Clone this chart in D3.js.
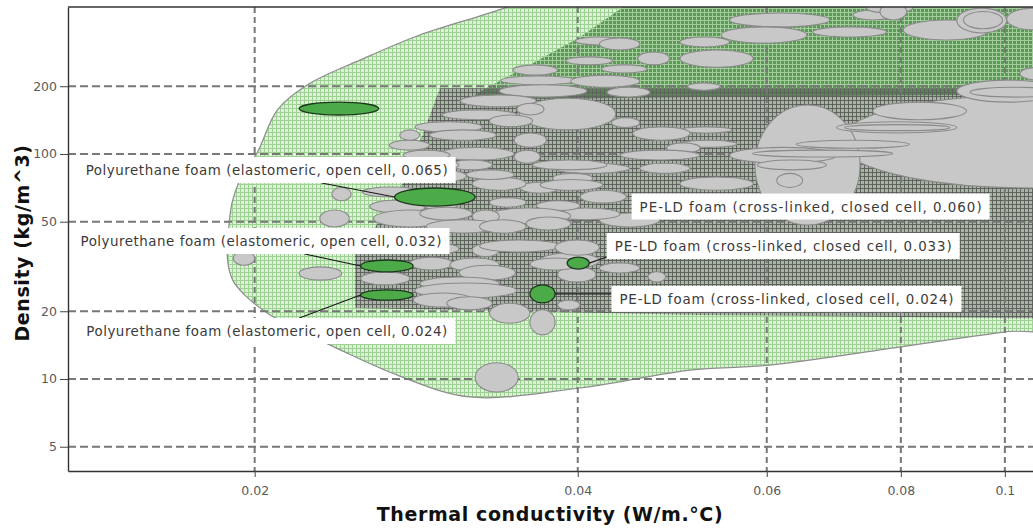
<!DOCTYPE html>
<html>
<head>
<meta charset="utf-8">
<script src="https://cdn.jsdelivr.net/npm/d3@7"></script>
<style>
body { margin: 0; background: #fff; }
text { font-family: "DejaVu Sans", Verdana, sans-serif; }
</style>
</head>
<body>
<div id="chart"></div>
<script>
// ---- data (thermal conductivity W/m.°C, density kg/m^3) ----
var xMajorTicks = [0.02, 0.04, 0.06, 0.08, 0.1];
var xTickLabels = ["0.02", "0.04", "0.06", "0.08", "0.1"];
var yMajorTicks = [5, 10, 20, 50, 100, 200];
var yTickLabels = ["5", "10", "20", "50", "100", "200"];

// outer envelope of all foams [k, rho]
var envelopePoints = [
    [0.12, 18.0], [0.1, 16.2], [0.08, 13.9], [0.06, 11.5], [0.0509, 10.96],
    [0.0402, 9.12], [0.0317, 8.32], [0.0273, 10.3], [0.024, 13.5], [0.022, 16.5],
    [0.02066, 19.3], [0.01958, 23.6], [0.01908, 27.5], [0.01887, 33.8], [0.01894, 49.9],
    [0.01908, 62.5], [0.01958, 84.9], [0.0201, 101], [0.021, 157], [0.0224, 203],
    [0.0251, 262], [0.0285, 338], [0.0342, 446], [0.0385, 564], [0.12, 600]
];
// darker green family band (upper right)
var bandPoints = [
    [0.0467, 700], [0.0441, 450], [0.0402, 331], [0.0361, 249], [0.0324, 189],
    [0.0317, 174], [0.052, 179], [0.12, 185], [0.12, 700]
];
// grey hatched family region
var hatchPoints = [
    [0.12, 196], [0.02975, 196], [0.0288, 128], [0.0273, 69.2], [0.0256, 43.6],
    [0.0248, 35.6], [0.0248, 20.7], [0.052, 19.25], [0.12, 18.5]
];

// grey material bubbles [kLow, kHigh, rhoLow, rhoHigh]
var grayBubbles = [
    [0.070, 0.16, 70.6, 183], [0.0585, 0.0733, 48.3, 165],
    [0.0902, 0.1125, 170, 213], [0.0928, 0.1125, 179, 198], [0.0753, 0.0921, 142, 170],
    [0.0697, 0.0902, 124, 139], [0.0709, 0.0889, 127, 135], [0.0639, 0.0815, 106, 115],
    [0.0554, 0.0697, 91, 107], [0.0582, 0.0786, 97, 104], [0.0588, 0.0682, 85, 94],
    [0.0498, 0.0557, 124, 132], [0.0498, 0.0563, 107, 115], [0.0613, 0.0648, 71, 82],
    [0.0498, 0.0583, 69, 79],
    [0.0554, 0.0687, 367, 423], [0.0544, 0.0654, 311, 367], [0.0662, 0.0776, 331, 367],
    [0.0498, 0.0554, 299, 331], [0.0498, 0.0583, 243, 290], [0.0722, 0.0786, 394, 436],
    [0.0743, 0.0821, 423, 468], [0.0804, 0.0968, 321, 394], [0.0902, 0.1004, 345, 445],
    [0.0915, 0.0995, 360, 430], [0.1004, 0.1125, 356, 445], [0.0765, 0.0810, 394, 468],
    [0.0506, 0.0543, 192, 207], [0.1033, 0.1125, 213, 243],
    [0.0450, 0.0509, 115, 132], [0.0430, 0.0457, 131, 145], [0.0484, 0.0520, 101, 112],
    [0.0457, 0.0509, 82, 91], [0.0379, 0.0447, 82, 91], [0.0402, 0.0444, 60.5, 69],
    [0.0419, 0.0477, 47.4, 54.7], [0.0379, 0.0438, 51, 57.5], [0.0457, 0.052, 39.4, 44.5],
    [0.0369, 0.0419, 31, 36.3], [0.0419, 0.0457, 29.6, 32.8], [0.0438, 0.052, 94, 104],
    [0.0398, 0.044, 305, 331], [0.0419, 0.0457, 290, 328], [0.039, 0.0431, 249, 270],
    [0.0348, 0.0383, 224, 249], [0.0421, 0.0464, 229, 249], [0.0455, 0.0487, 249, 284],
    [0.0339, 0.0399, 203, 222], [0.0394, 0.0457, 198, 224], [0.0426, 0.0467, 179, 198],
    [0.0338, 0.0408, 179, 203], [0.0311, 0.0366, 162, 183], [0.0353, 0.0434, 128, 177],
    [0.0351, 0.0372, 149, 168], [0.0299, 0.0351, 142, 157], [0.0282, 0.0326, 125, 139],
    [0.0331, 0.0363, 132, 149], [0.0267, 0.0291, 104, 115], [0.0291, 0.0336, 115, 128],
    [0.0297, 0.0349, 94, 107], [0.0304, 0.0333, 85, 94], [0.0349, 0.0374, 107, 124],
    [0.0349, 0.0369, 91, 104], [0.0363, 0.0426, 85, 94], [0.0379, 0.0413, 74, 82],
    [0.0353, 0.0385, 67, 75], [0.0331, 0.0358, 58, 64], [0.0366, 0.0402, 56, 62],
    [0.0369, 0.0422, 69, 77], [0.0329, 0.0394, 49, 57.5], [0.0319, 0.0358, 69, 79],
    [0.0315, 0.0349, 77, 85], [0.028, 0.031, 85, 94], [0.0275, 0.0304, 94, 104],
    [0.0283, 0.0315, 75, 85], [0.0273, 0.0285, 115, 128], [0.0252, 0.0285, 64.4, 71.3],
    [0.0256, 0.0289, 54.7, 62.4], [0.0258, 0.0302, 47.4, 56.4], [0.0236, 0.0246, 62, 71],
    [0.023, 0.0245, 47.4, 56.4], [0.0287, 0.0309, 56.4, 62.4], [0.0285, 0.0319, 50.9, 58],
    [0.0319, 0.0338, 49.3, 56.4], [0.0289, 0.0338, 44.5, 51], [0.0324, 0.0358, 44.5, 51],
    [0.0358, 0.0394, 45.9, 52.5], [0.0319, 0.0338, 35, 40], [0.0285, 0.031, 36, 40],
    [0.0324, 0.0385, 36.7, 41.5], [0.0273, 0.0297, 41.5, 45.9],
    [0.0251, 0.0279, 26.2, 29.9], [0.0279, 0.0306, 30.5, 34.8], [0.0304, 0.0338, 30, 34.5],
    [0.031, 0.035, 27.5, 32], [0.0285, 0.0338, 24.9, 28.4], [0.0282, 0.0351, 22.9, 26.7],
    [0.0281, 0.0319, 20.9, 24.1], [0.0302, 0.0333, 20.3, 23.2], [0.0331, 0.0361, 17.7, 21.7],
    [0.0361, 0.0381, 15.7, 20.3], [0.0383, 0.0402, 20.3, 22.4], [0.0321, 0.0352, 8.75, 11.8],
    [0.0383, 0.0416, 27, 31.5], [0.0465, 0.0483, 27, 30], [0.0361, 0.0402, 30.5, 34.5],
    [0.0381, 0.0419, 35.5, 41.5], [0.022, 0.0241, 27.5, 31.5], [0.0191, 0.02, 32, 37]
];

// highlighted bubbles [kLow, kHigh, rhoLow, rhoHigh]
var greenBubbles = [
    [0.0220, 0.0261, 149, 170],
    [0.0270, 0.0321, 58.7, 70.6],
    [0.0251, 0.0281, 29.9, 33.8],
    [0.0251, 0.0281, 22.4, 24.9],
    [0.0391, 0.0410, 30.8, 34.8],
    [0.0361, 0.0381, 21.8, 26.2]
];

var labelTexts = [
    "Polyurethane foam (elastomeric, open cell, 0.065)",
    "Polyurethane foam (elastomeric, open cell, 0.032)",
    "Polyurethane foam (elastomeric, open cell, 0.024)",
    "PE-LD foam (cross-linked, closed cell, 0.060)",
    "PE-LD foam (cross-linked, closed cell, 0.033)",
    "PE-LD foam (cross-linked, closed cell, 0.024)"
];
var labelTargets = [1, 2, 3, -1, 4, 5];

// ---- layout ----
var svgWidth = 1033;
var svgHeight = 529;
var plot = { left: 68, top: 7, right: 1033, bottom: 471 };

var svg = d3.select("#chart")
    .append("svg")
    .attr("width", svgWidth)
    .attr("height", svgHeight);

var xScale = d3.scaleLog().domain([0.0134, 0.115]).range([68, 1070]);
var yScale = d3.scaleLog().domain([3.9, 450]).range([471, 7]);

var defs = svg.append("defs");
defs.append("clipPath").attr("id", "plotClip")
    .append("rect")
    .attr("x", plot.left).attr("y", plot.top)
    .attr("width", plot.right - plot.left).attr("height", plot.bottom - plot.top);

// grid hatch patterns
function makePattern(id, bg, line, lineOpacity) {
    var p = defs.append("pattern").attr("id", id)
        .attr("patternUnits", "userSpaceOnUse")
        .attr("width", 4).attr("height", 4);
    if (bg) p.append("rect").attr("width", 4).attr("height", 4).attr("fill", bg);
    p.append("path").attr("d", "M0,0.5H4M0.5,0V4")
        .attr("stroke", line).attr("stroke-width", 1).attr("stroke-opacity", lineOpacity);
}
makePattern("gridLight", "#dcf1d6", "#9dd194", 1);
makePattern("gridBand", "#5a9a54", "#a3cd9c", 1);
makePattern("gridHatch", "rgba(90,90,90,0.40)", "#585858", 0.8);

var chartGroup = svg.append("g").attr("clip-path", "url(#plotClip)");

var lineGen = d3.line().x(d => xScale(d[0])).y(d => yScale(d[1]));

// Step 1: family envelopes
chartGroup.append("path")
    .attr("d", lineGen.curve(d3.curveCatmullRomClosed.alpha(0.5))(envelopePoints))
    .attr("fill", "url(#gridLight)")
    .attr("stroke", "#8d8d8d")
    .attr("stroke-width", 1.2);

chartGroup.append("path")
    .attr("d", lineGen.curve(d3.curveLinearClosed)(bandPoints))
    .attr("fill", "url(#gridBand)");

chartGroup.append("path")
    .attr("d", lineGen.curve(d3.curveLinearClosed)(hatchPoints))
    .attr("fill", "url(#gridHatch)");

// Step 2: dashed grid lines
chartGroup.selectAll(".vgrid")
    .data(xMajorTicks).enter().append("line")
    .attr("x1", d => xScale(d)).attr("x2", d => xScale(d))
    .attr("y1", plot.top).attr("y2", plot.bottom)
    .attr("stroke", "#777").attr("stroke-width", 2).attr("stroke-dasharray", "6,4");

chartGroup.selectAll(".hgrid")
    .data(yMajorTicks).enter().append("line")
    .attr("x1", plot.left).attr("x2", plot.right)
    .attr("y1", d => yScale(d)).attr("y2", d => yScale(d))
    .attr("stroke", "#777").attr("stroke-width", 2).attr("stroke-dasharray", "8,4");

// Step 3: bubbles
function drawBubbles(data, fill, stroke, sw) {
    chartGroup.selectAll(null)
        .data(data).enter().append("ellipse")
        .attr("cx", d => (xScale(d[0]) + xScale(d[1])) / 2)
        .attr("cy", d => (yScale(d[2]) + yScale(d[3])) / 2)
        .attr("rx", d => (xScale(d[1]) - xScale(d[0])) / 2)
        .attr("ry", d => (yScale(d[2]) - yScale(d[3])) / 2)
        .attr("fill", fill)
        .attr("stroke", stroke)
        .attr("stroke-width", sw);
}
drawBubbles(grayBubbles, "#c8c8c8", "#8a8a8a", 1.1);
drawBubbles(greenBubbles, "#4caa49", "#1c381c", 1.3);

// Step 4: annotation boxes, anchored in data space [k at box left, rho at box middle]
var labelAnchors = [[0.01368, 84.9], [0.01353, 41.05], [0.0137, 16.34],
                    [0.0449, 58.4], [0.04256, 39.0], [0.0430, 22.7]];
var labelWidths = [362, 361, 361, 342, 337, 334];
// where the leader leaves the box: "bottom"/"top" at a px offset, or "left"
var leaderSide = ["bottom", "bottom", "top", "none", "left", "left"];
var leaderOffsets = [244, 232, 221, 0, 0, 0];
var boxH = 26;

var labelGroup = svg.append("g");
var leaderGroup = labelGroup.append("g");
labelTexts.forEach(function (txt, i) {
    var bx = xScale(labelAnchors[i][0]);
    var by = yScale(labelAnchors[i][1]) - boxH / 2;
    var w = labelWidths[i] + 16;
    var g = labelGroup.append("g");
    g.append("rect")
        .attr("x", bx).attr("y", by)
        .attr("width", w).attr("height", boxH)
        .attr("fill", "#fff");
    g.append("text")
        .attr("x", bx + 8).attr("y", by + boxH / 2 + 5)
        .attr("font-size", 13.4)
        .attr("fill", "#3a3a3a")
        .attr("textLength", labelWidths[i])
        .attr("lengthAdjust", "spacing")
        .text(txt);

    var ti = labelTargets[i];
    if (ti >= 0) {
        var b = greenBubbles[ti];
        var ecy = (yScale(b[2]) + yScale(b[3])) / 2;
        var ex, sx, sy;
        if (leaderSide[i] === "left") {
            ex = xScale(b[1]); sx = bx;
            sy = Math.max(by + 2, Math.min(by + boxH - 2, ecy));
        } else {
            ex = xScale(b[0]); sx = bx + leaderOffsets[i];
            sy = leaderSide[i] === "bottom" ? by + boxH : by;
        }
        leaderGroup.append("line")
            .attr("x1", sx).attr("y1", sy).attr("x2", ex).attr("y2", ecy)
            .attr("stroke", "#1a1a1a").attr("stroke-width", 1.2);
    }
});

// Step 5: axes
var minorX = d3.range(14, 116, 2).map(d => d / 1000).filter(d => xMajorTicks.indexOf(d) < 0);
var minorY = [4, 6, 7, 8, 9, 30, 40, 60, 70, 80, 90, 300, 400];

var xAxisG = svg.append("g").attr("transform", `translate(0, ${plot.bottom})`);
xAxisG.call(d3.axisBottom(xScale).tickValues(minorX).tickFormat("").tickSize(5).tickSizeOuter(0));
xAxisG.call(d3.axisBottom(xScale).tickValues(xMajorTicks)
    .tickFormat((d, i) => xTickLabels[i]).tickSize(6).tickSizeOuter(0).tickPadding(9));

var yAxisG = svg.append("g").attr("transform", `translate(${plot.left}, 0)`);
yAxisG.call(d3.axisLeft(yScale).tickValues(minorY).tickFormat("").tickSize(5).tickSizeOuter(0));
yAxisG.call(d3.axisLeft(yScale).tickValues(yMajorTicks)
    .tickFormat((d, i) => yTickLabels[i]).tickSize(8).tickSizeOuter(0).tickPadding(3));

svg.selectAll(".domain").attr("stroke", "#333").attr("stroke-width", 1.4);
svg.selectAll(".tick line").attr("stroke", "#444");
svg.selectAll(".tick text")
    .attr("font-family", "DejaVu Sans, Verdana, sans-serif")
    .attr("font-size", 12.5)
    .attr("fill", "#5a5a5a");

svg.append("line")
    .attr("x1", plot.left).attr("x2", plot.right)
    .attr("y1", plot.top).attr("y2", plot.top)
    .attr("stroke", "#333").attr("stroke-width", 1.4);

// Step 6: axis titles
svg.append("text")
    .attr("x", 550).attr("y", 521)
    .attr("text-anchor", "middle")
    .attr("font-size", 19).attr("font-weight", "bold")
    .attr("letter-spacing", 0.6)
    .attr("fill", "#111")
    .text("Thermal conductivity (W/m.°C)");

svg.append("text")
    .attr("transform", "translate(29, 243) rotate(-90)")
    .attr("text-anchor", "middle")
    .attr("font-size", 19).attr("font-weight", "bold")
    .attr("letter-spacing", 0.6)
    .attr("fill", "#111")
    .text("Density (kg/m^3)");
</script>
</body>
</html>
